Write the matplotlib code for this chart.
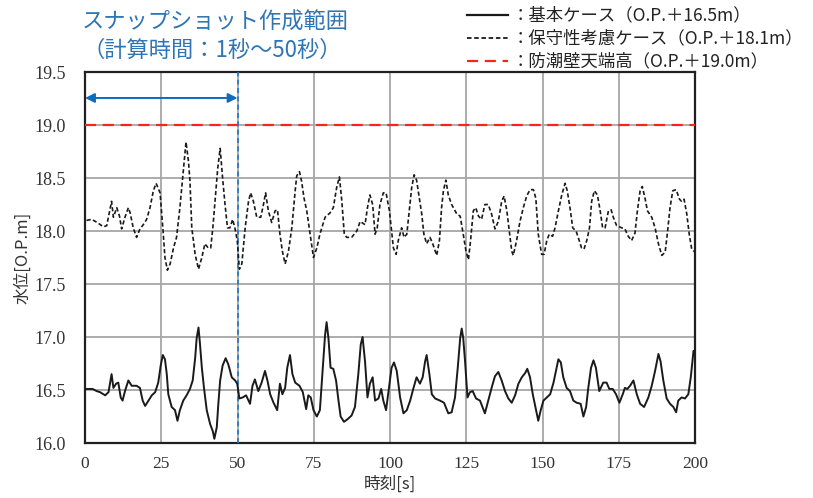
import matplotlib
matplotlib.use("Agg")
import matplotlib.pyplot as plt
from matplotlib.lines import Line2D

# ---- data ----
base_t = [0.5, 2.5, 3.8, 4.9, 6.6, 7.7, 8.7, 9.3, 10.2, 10.9, 11.7, 12.3, 13.1, 14.2, 15.3, 16.9, 18.0, 18.9, 19.7,
          20.8, 21.9, 23.0, 24.0, 24.8, 25.5, 26.2, 26.8, 27.3, 28.4, 29.5, 30.3, 31.1, 32.2, 33.3, 34.4, 35.3, 36.1,
          36.6, 37.2, 37.7, 38.3, 39.0, 39.9, 41.0, 41.9, 42.4, 43.2, 43.7, 44.3, 45.1, 46.1, 47.0, 48.1, 49.2, 49.9,
          50.6, 51.7, 52.8, 54.1, 54.9, 55.7, 56.8, 57.9, 59.0, 59.8, 60.7, 61.8, 63.0, 63.9, 64.7, 65.6, 66.3, 67.2,
          68.0, 68.9, 70.3, 71.4, 72.5, 73.2, 74.0, 74.9, 76.0, 77.0, 77.9, 78.7, 79.2, 79.8, 80.5, 81.4, 82.3, 83.1,
          83.8, 84.9, 86.3, 87.4, 88.5, 89.6, 90.4, 91.0, 91.8, 92.6, 93.4, 94.3, 95.1, 96.2, 97.1, 97.8, 98.7, 99.5,
          100.5, 101.3, 102.2, 103.3, 104.4, 105.5, 106.6, 107.7, 108.7, 109.8, 110.7, 111.5, 112.0, 112.9, 113.7,
          114.8, 116.4, 117.7, 119.1, 120.2, 121.3, 122.2, 123.0, 123.5, 124.0, 124.6, 125.4, 126.2, 127.1, 128.2,
          129.5, 131.1, 132.2, 133.3, 134.4, 135.5, 136.6, 137.7, 138.8, 139.9, 141.0, 142.1, 143.2, 144.3, 145.0,
          145.9, 146.8, 147.9, 148.6, 149.4, 150.3, 151.4, 152.5, 153.6, 154.4, 155.2, 156.0, 156.8, 157.9, 159.0,
          160.1, 161.2, 162.5, 163.4, 164.3, 165.0, 165.9, 166.7, 167.5, 168.6, 169.9, 171.0, 171.9, 173.0, 174.1,
          175.2, 176.3, 177.0, 177.8, 178.7, 179.8, 180.9, 182.0, 183.3, 184.7, 185.8, 186.9, 188.0, 188.7, 189.6,
          190.7, 191.8, 192.9, 193.8, 194.5, 195.6, 196.7, 197.8, 198.6, 199.5, 200.0]
base_v = [16.51, 16.51, 16.49, 16.48, 16.45, 16.48, 16.65, 16.52, 16.56, 16.57, 16.43, 16.40, 16.49, 16.59, 16.54,
          16.54, 16.52, 16.40, 16.35, 16.40, 16.45, 16.48, 16.57, 16.73, 16.83, 16.79, 16.65, 16.46, 16.34, 16.31,
          16.21, 16.31, 16.40, 16.45, 16.51, 16.59, 16.80, 16.99, 17.09, 16.93, 16.71, 16.52, 16.31, 16.18, 16.11,
          16.04, 16.15, 16.37, 16.59, 16.73, 16.80, 16.74, 16.62, 16.59, 16.56, 16.42, 16.43, 16.45, 16.37, 16.54,
          16.60, 16.49, 16.57, 16.68, 16.59, 16.46, 16.38, 16.31, 16.56, 16.46, 16.52, 16.71, 16.83, 16.65, 16.57,
          16.54, 16.48, 16.32, 16.45, 16.43, 16.31, 16.25, 16.31, 16.68, 17.02, 17.14, 16.99, 16.71, 16.70, 16.59,
          16.40, 16.25, 16.20, 16.23, 16.26, 16.34, 16.65, 16.93, 17.00, 16.77, 16.43, 16.56, 16.62, 16.40, 16.42,
          16.51, 16.40, 16.31, 16.49, 16.71, 16.76, 16.68, 16.43, 16.28, 16.31, 16.40, 16.52, 16.62, 16.56, 16.62,
          16.77, 16.83, 16.65, 16.46, 16.42, 16.40, 16.38, 16.28, 16.29, 16.43, 16.71, 16.99, 17.08, 16.99, 16.77,
          16.43, 16.48, 16.49, 16.42, 16.40, 16.28, 16.40, 16.52, 16.63, 16.67, 16.59, 16.49, 16.42, 16.38, 16.45,
          16.56, 16.62, 16.66, 16.70, 16.62, 16.46, 16.31, 16.21, 16.31, 16.40, 16.43, 16.46, 16.57, 16.68, 16.79,
          16.76, 16.62, 16.52, 16.49, 16.40, 16.38, 16.37, 16.25, 16.34, 16.52, 16.71, 16.78, 16.71, 16.49, 16.57,
          16.57, 16.51, 16.51, 16.46, 16.38, 16.46, 16.52, 16.51, 16.54, 16.59, 16.46, 16.37, 16.34, 16.43, 16.54,
          16.68, 16.84, 16.77, 16.59, 16.42, 16.37, 16.34, 16.29, 16.40, 16.43, 16.42, 16.46, 16.62, 16.87, 16.85]

cons_t = [0.5, 2.2, 4.0, 6.0, 7.1, 8.7, 9.3, 10.4, 11.3, 12.0, 13.1, 14.2, 14.8, 15.8, 16.9, 18.0, 19.1, 20.2, 21.3,
          22.4, 23.3, 24.6, 25.5, 26.2, 27.0, 27.9, 29.0, 30.0, 31.1, 32.0, 32.6, 33.1, 33.9, 34.4, 35.0, 36.1, 37.2,
          38.3, 39.3, 40.4, 41.2, 41.9, 42.6, 43.5, 44.3, 45.1, 45.9, 46.7, 47.5, 48.4, 49.2, 49.9, 50.6, 51.4, 52.5,
          53.6, 54.3, 55.2, 56.3, 57.6, 58.5, 59.2, 60.1, 61.2, 62.3, 63.1, 63.9, 64.7, 65.6, 66.7, 67.8, 68.9, 69.4,
          70.3, 71.0, 71.8, 72.7, 73.8, 74.9, 76.0, 77.0, 78.7, 80.3, 81.4, 82.5, 83.4, 84.2, 85.0, 85.8, 87.4, 89.1,
          90.2, 91.8, 92.6, 93.4, 94.3, 95.1, 95.8, 96.7, 97.8, 98.7, 99.8, 101.1, 102.0, 102.7, 103.8, 104.6, 105.5,
          106.3, 107.1, 107.9, 108.7, 109.6, 110.4, 111.1, 112.0, 113.1, 114.0, 115.3, 116.2, 116.9, 117.5, 118.3,
          119.1, 120.2, 121.9, 123.0, 124.0, 124.9, 125.7, 126.4, 127.3, 128.1, 129.0, 130.0, 131.1, 132.2, 133.3,
          134.4, 135.5, 136.6, 137.4, 138.3, 139.1, 139.9, 140.4, 141.5, 142.6, 143.7, 144.8, 145.9, 147.0, 147.8,
          148.6, 149.7, 150.5, 151.4, 152.2, 153.3, 154.1, 155.2, 156.3, 157.4, 158.1, 159.0, 159.9, 161.0, 161.7,
          162.8, 163.6, 164.5, 165.4, 166.1, 167.0, 168.0, 168.9, 169.7, 170.5, 171.6, 172.5, 173.2, 174.3, 176.0,
          177.0, 178.1, 179.2, 180.3, 181.1, 182.0, 182.7, 183.6, 184.4, 185.8, 186.9, 188.0, 189.1, 190.2, 190.9,
          191.8, 192.7, 193.8, 194.9, 195.6, 196.4, 197.3, 198.1, 198.9, 200.0]
cons_v = [18.10, 18.11, 18.08, 18.04, 18.05, 18.28, 18.13, 18.22, 18.14, 18.02, 18.13, 18.22, 18.17, 18.03, 17.94,
          18.02, 18.06, 18.11, 18.22, 18.38, 18.45, 18.36, 18.03, 17.75, 17.63, 17.69, 17.84, 17.94, 18.22, 18.50,
          18.69, 18.84, 18.66, 18.47, 18.03, 17.78, 17.64, 17.75, 17.88, 17.84, 17.84, 18.03, 18.28, 18.59, 18.78,
          18.50, 18.25, 18.03, 18.03, 18.11, 18.02, 17.91, 17.64, 17.69, 18.03, 18.28, 18.36, 18.28, 18.13, 18.13,
          18.25, 18.36, 18.19, 18.08, 18.19, 18.20, 17.97, 17.81, 17.69, 17.81, 18.03, 18.38, 18.52, 18.56, 18.47,
          18.31, 18.19, 17.97, 17.75, 17.84, 17.97, 18.13, 18.17, 18.22, 18.41, 18.51, 18.28, 17.97, 17.94, 17.94,
          18.00, 18.09, 18.06, 18.22, 18.34, 18.25, 17.97, 18.03, 18.25, 18.36, 18.36, 18.19, 17.84, 17.78, 17.91,
          18.03, 17.94, 17.97, 18.19, 18.41, 18.53, 18.48, 18.31, 18.16, 17.97, 17.88, 17.94, 17.88, 17.77, 17.91,
          18.22, 18.38, 18.48, 18.34, 18.25, 18.16, 18.14, 17.97, 17.81, 17.73, 17.91, 18.19, 18.22, 18.14, 18.11,
          18.25, 18.25, 18.16, 18.02, 18.09, 18.28, 18.33, 18.19, 18.00, 17.81, 17.77, 17.91, 18.09, 18.22, 18.33,
          18.39, 18.39, 18.31, 17.97, 17.78, 17.78, 17.91, 17.97, 17.95, 18.03, 18.19, 18.34, 18.45, 18.38, 18.22,
          18.03, 18.00, 17.94, 17.84, 17.83, 17.91, 18.03, 18.28, 18.38, 18.34, 18.19, 18.03, 18.03, 18.19, 18.20,
          18.13, 18.05, 18.03, 18.02, 17.95, 17.91, 17.98, 18.19, 18.38, 18.42, 18.31, 18.19, 18.13, 18.03, 17.88,
          17.77, 17.80, 17.97, 18.22, 18.38, 18.39, 18.30, 18.28, 18.30, 18.16, 17.97, 17.83, 17.80]

wall_level = 19.0
snap_range = [0, 50]
x_ticks = [0, 25, 50, 75, 100, 125, 150, 175, 200]
y_ticks = [16.0, 16.5, 17.0, 17.5, 18.0, 18.5, 19.0, 19.5]
legend_labels = ["：基本ケース（O.P.＋16.5m）", "：保守性考慮ケース（O.P.＋18.1m）", "：防潮壁天端高（O.P.＋19.0m）"]
title_lines = ["スナップショット作成範囲", "（計算時間：1秒～50秒）"]

CJK = ["Noto Sans CJK JP", "DejaVu Sans"]
SERIF = ["Liberation Serif", "DejaVu Serif"]
BLUE = "#2e75b6"

plt.rcParams["font.family"] = SERIF

fig = plt.figure(figsize=(8.13, 4.98), dpi=100)
ax = fig.add_axes([0.1046, 0.1104, 0.7503, 0.745])

ax.plot(base_t, base_v, color="#1a1a1a", lw=1.4, zorder=4)
ax.plot(cons_t, cons_v, color="#1a1a1a", lw=1.2, dashes=(2.5, 1.5), zorder=4)
ax.axhline(wall_level, color="#ff2020", lw=1.6, dashes=(5, 3), zorder=3)
ax.axvline(snap_range[1], color="#1f77d0", lw=1.2, dashes=(3, 2), zorder=3)
ax.annotate("", xy=(snap_range[0], 19.255), xytext=(snap_range[1], 19.255),
            arrowprops=dict(arrowstyle="<|-|>", color="#0f6cbd", lw=1.4, mutation_scale=14,
                            shrinkA=0, shrinkB=0), zorder=5)

ax.set_xlim(0, 200)
ax.set_ylim(16.0, 19.5)
ax.set_xticks(x_ticks)
ax.set_yticks(y_ticks)
ax.set_xticklabels([str(v) for v in x_ticks])
ax.set_yticklabels([f"{v:.1f}" for v in y_ticks])
ax.tick_params(length=0, colors="#333333")
ax.tick_params(axis="x", pad=9, labelsize=12.5)
ax.tick_params(axis="y", pad=14, labelsize=13)
for lbl in ax.get_xticklabels() + ax.get_yticklabels():
    lbl.set_fontfamily(SERIF)
ax.grid(True, color="#a6a6a6", lw=1.3)
ax.set_axisbelow(True)
for s in ax.spines.values():
    s.set_color("#202020")
    s.set_linewidth(1.6)

ax.set_xlabel("時刻[s]", fontfamily=CJK, fontsize=12, labelpad=3, color="#333333")
ax.set_ylabel("水位[O.P.m]", fontfamily=CJK, fontsize=12, labelpad=2, color="#333333")

# title
fig.text(215 / 813, 1 - 22 / 498, title_lines[0], fontfamily=CJK, fontsize=16, color=BLUE,
         ha="center", va="center")
fig.text(212 / 813, 1 - 50 / 498, title_lines[1], fontfamily=CJK, fontsize=16, color=BLUE,
         ha="center", va="center")

# legend
styles = [dict(color="#1a1a1a", lw=1.6), dict(color="#1a1a1a", lw=1.3, dashes=(2.5, 1.5)),
          dict(color="#ff2020", lw=1.6, dashes=(5, 3))]
ys = [15, 38, 61]
for lab, st, yy in zip(legend_labels, styles, ys):
    yf = 1 - yy / 498
    fig.add_artist(Line2D([467 / 813, 508 / 813], [yf, yf], transform=fig.transFigure, **st))
    fig.text(512 / 813, yf, lab, fontfamily=CJK, fontsize=12.5, color="#222222", ha="left", va="center")

fig.savefig("out.png", dpi=100)
